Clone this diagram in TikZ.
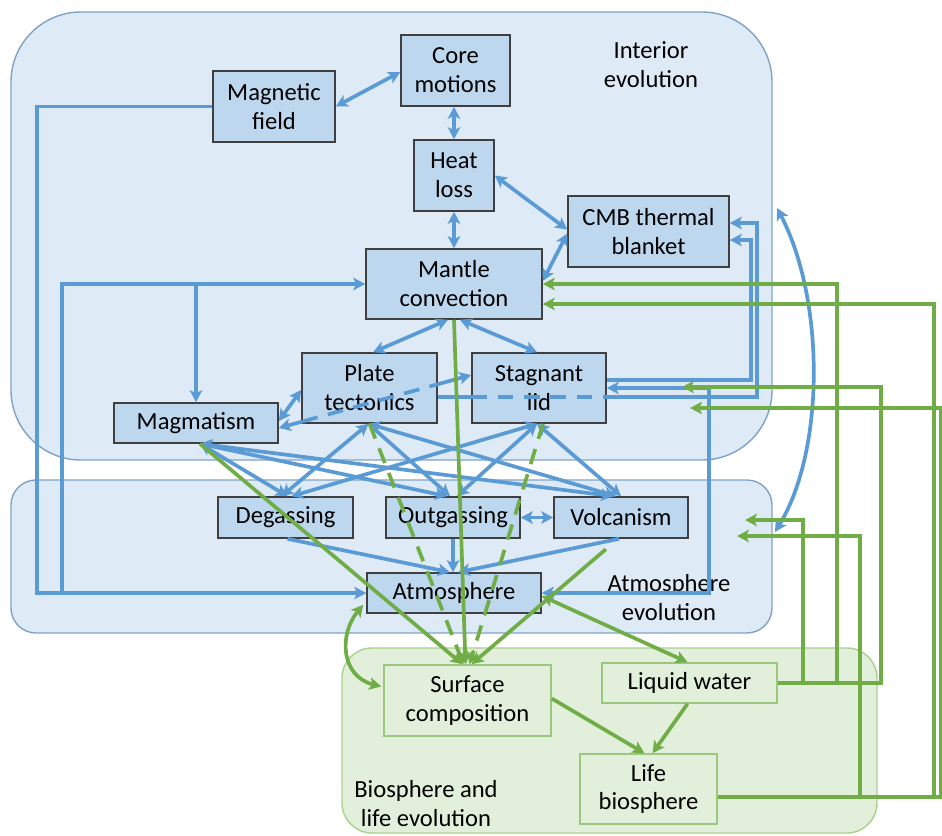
\documentclass[tikz,border=0pt]{standalone}
\usepackage{fontspec}
\setmainfont{Carlito}
\usetikzlibrary{arrows.meta,calc}
\definecolor{contblue}{HTML}{DEEBF7}
\definecolor{contblueb}{HTML}{7FA3C7}
\definecolor{nodeblue}{HTML}{BDD7EE}
\definecolor{nodeb}{HTML}{3F3F3F}
\definecolor{lineblue}{HTML}{5B9BD5}
\definecolor{linegreen}{HTML}{70AD47}
\definecolor{contgreen}{HTML}{E2EFDA}
\definecolor{contgreenb}{HTML}{A9D18E}
\definecolor{nodegreen}{HTML}{E2EFDA}
\definecolor{nodegreenb}{HTML}{9BC87E}
\newcommand\dfont{\fontsize{14pt}{16.5pt}\selectfont}
\begin{document}
\begin{tikzpicture}[x=0.02cm,y=-0.02cm,
  bbox/.style={draw=nodeb,fill=nodeblue,line width=0.9pt,align=center,inner sep=0pt,font=\dfont},
  gbox/.style={draw=nodegreenb,fill=nodegreen,line width=0.9pt,align=center,inner sep=0pt,font=\dfont},
  bl/.style={draw=lineblue,line width=2.1pt},
  gr/.style={draw=linegreen,line width=2.1pt},
  dsh/.style={dash pattern=on 9pt off 6pt},
  >={Stealth[length=2.4mm,width=2.5mm,inset=0.6mm]},
  lbl/.style={font=\dfont,align=center,inner sep=0pt}]
\useasboundingbox (0,0) rectangle (942,835);
% containers
\path[draw=contblueb,fill=contblue,line width=0.8pt,rounded corners=1.4cm] (11,12) rectangle (772,460);
\path[draw=contblueb,fill=contblue,line width=0.8pt,rounded corners=0.5cm] (11,480) rectangle (772,633);
\path[draw=contgreenb,fill=contgreen,line width=0.8pt,rounded corners=0.6cm] (342,648) rectangle (877,833);
% labels
\node[lbl] (lint) at (651,65) {Interior\\evolution};
\node[lbl] (latm) at (669,598) {Atmosphere\\evolution};
\node[lbl] (lbio) at (426,804) {Biosphere and\\life evolution};
% nodes
\node[bbox,minimum width=2.18cm,minimum height=1.42cm] (core) at (455.5,70.5) {Core\\motions};
\node[bbox,minimum width=2.44cm,minimum height=1.42cm] (mf) at (274,106.5) {Magnetic\\field};
\node[bbox,minimum width=1.6cm,minimum height=1.42cm] (heat) at (454,175.5) {Heat\\loss};
\node[bbox,minimum width=3.22cm,minimum height=1.42cm] (cmb) at (648.5,231.5) {CMB thermal\\blanket};
\node[bbox,minimum width=3.52cm,minimum height=1.4cm] (mantle) at (454,284) {Mantle\\convection};
\node[bbox,minimum width=2.7cm,minimum height=1.4cm] (pt) at (369.5,388) {Plate\\tectonics};
\node[bbox,minimum width=2.68cm,minimum height=1.4cm] (sl) at (539,388) {Stagnant\\lid};
\node[bbox,minimum width=3.28cm,minimum height=0.8cm] (mag) at (196,423) {Magmatism};
\node[bbox,minimum width=2.7cm,minimum height=0.82cm] (deg) at (285.5,517.5) {Degassing};
\node[bbox,minimum width=2.68cm,minimum height=0.82cm] (og) at (453,517.5) {Outgassing};
\node[bbox,minimum width=2.68cm,minimum height=0.82cm] (vol) at (621,517.5) {Volcanism};
\node[bbox,minimum width=3.48cm,minimum height=0.8cm] (atm) at (454,593) {Atmosphere};
\node[gbox,minimum width=3.34cm,minimum height=1.42cm] (sc) at (467.5,700.5) {Surface\\composition};
\node[gbox,minimum width=3.5cm,minimum height=0.8cm] (lw) at (689.5,683) {Liquid water};
\node[gbox,minimum width=2.74cm,minimum height=1.4cm] (life) at (648.5,789) {Life\\biosphere};
% free ends
\coordinate (ct) at (777,208);
\coordinate (cb) at (775,532);
\coordinate (fa) at (745,520);
\coordinate (fb) at (682,387);
\coordinate (fc) at (737,536);
\coordinate (fd) at (690,408);
% blue connectors
\draw[bl,<->] (mf.east) -- ($(core.west)+(0,1.5)$);
\draw[bl,<->] (heat.north |- core.south) -- (heat.north);
\draw[bl,<->] (heat.south) -- (heat.south |- mantle.north);
\draw[bl,<->] (heat.east) -- ($(cmb.west)+(0,-2)$);
\draw[bl,<->] ($(mantle.east)+(0,-3)$) -- ($(cmb.west)+(0,2)$);
\draw[bl,->] (mf.west) -| ($(atm.west)+(-329,0)$) -- (atm.west);
\draw[bl,->] ($(atm.west)+(-304,0)$) |- (mantle.west);
\draw[bl,->] (mag.north |- mantle.west) -- (mag.north);
\draw[bl,<->] ($(mantle.south)+(-6,0)$) -- ($(pt.north)+(3.5,0)$);
\draw[bl,<->] ($(mantle.south)+(6,0)$) -- ($(sl.north)+(-2,0)$);
\draw[bl,<->] ($(pt.west)+(0,2)$) -- ($(mag.east)+(0,-2)$);
% magmatism <-> stagnant lid, dashed across plate tectonics
\coordinate (ms1) at ($(mag.east)+(0,5)$);
\coordinate (ms2) at ($(sl.west)+(0,-13)$);
\draw[bl,<-] (ms1) -- ($(ms1)!0.123!(ms2)$);
\draw[bl,dsh] ($(ms1)!0.123!(ms2)$) -- ($(ms1)!0.815!(ms2)$);
\draw[bl,->] ($(ms1)!0.815!(ms2)$) -- (ms2);
% plate tectonics -> CMB, dashed across stagnant lid
\draw[bl] ($(pt.east)+(0,9)$) -- ($(sl.west)+(0,9)$);
\draw[bl,dsh] ($(sl.west)+(0,9)$) -- ($(sl.east)+(0,9)$);
\draw[bl,->] ($(sl.east)+(0,9)$) -- ++(150,0) |- ($(cmb.east)+(0,-8.5)$);
\draw[bl,->] ($(sl.east)+(0,-8)$) -- ++(144,0) |- ($(cmb.east)+(0,8.5)$);
\draw[bl,<->] (atm.east) -- ++(167,0) |- (sl.east);
% crossing lines
\draw[bl,<->] ($(mag.south)+(4,0)$) -- ($(deg.north)+(2,0)$);
\draw[bl,<->] ($(mag.south)+(4,0)$) -- ($(og.north)+(-6,0)$);
\draw[bl,<->] ($(mag.south)+(4,0)$) -- ($(vol.north)+(-8,0)$);
\draw[bl,<->] ($(pt.south)+(-1,0)$) -- ($(deg.north)+(-4,0)$);
\draw[bl,<->] ($(pt.south)+(-1,0)$) -- ($(og.north)+(-3,0)$);
\draw[bl,<->] ($(pt.south)+(-1,0)$) -- ($(vol.north)+(-5,0)$);
\draw[bl,<->] ($(sl.south)+(-2,0)$) -- ($(deg.north)+(6,0)$);
\draw[bl,<->] ($(sl.south)+(-2,0)$) -- ($(og.north)+(4,0)$);
\draw[bl,<->] ($(sl.south)+(-2,0)$) -- ($(vol.north)+(0,0)$);
\draw[bl,<->] (og.east) -- (vol.west);
\draw[bl,->] ($(deg.south)+(2,0)$) -- ($(atm.north)+(-4,0)$);
\draw[bl,->] (og.south) -- (og.south |- atm.north);
\draw[bl,->] ($(vol.south)+(-2,0)$) -- ($(atm.north)+(4,0)$);
\draw[bl,<->] (ct) .. controls (825,300) and (825,450) .. (cb);
% green connectors
\draw[gr,->] (mantle.south) -- ($(sc.north)+(-2,0)$);
\draw[gr,->] ($(mag.south)+(4,0)$) -- ($(sc.north)+(-5,0)$);
\draw[gr,->,dsh] (pt.south) -- ($(sc.north)+(-4,0)$);
\draw[gr,->,dsh] ($(sl.south)+(4,0)$) -- ($(sc.north)+(2,0)$);
\draw[gr,->,shorten <=0.32cm] ($(vol.south)+(-3,0)$) -- ($(sc.north)+(4,0)$);
\draw[gr,<->] ($(atm.south west)+(-3,-9)$) .. controls +(-25,30) and +(-40,-10) .. ($(sc.west)+(-2,-14)$);
\draw[gr,<->] ($(atm.east)+(0,3)$) -- ($(lw.north)+(-2,0)$);
\draw[gr,->] ($(sc.east)+(0,-2)$) -- ($(life.north)+(-4,0)$);
\draw[gr,->] ($(lw.south)+(-2,0)$) -- ($(life.north)+(4,0)$);
\draw[gr,->] (lw.east) -- ++(25,0) |- (fa);
\draw[gr,->] (lw.east) -- ++(59,0) |- (mantle.east);
\draw[gr,->] (lw.east) -- ++(103,0) |- (fb);
\draw[gr,->] ($(life.east)+(0,8)$) -- ++(142,0) |- (fc);
\draw[gr,->] ($(life.east)+(0,8)$) -- ++(216,0) |- ($(mantle.east)+(0,20)$);
\draw[gr,->] ($(life.east)+(0,8)$) -- ++(223,0) |- (fd);
\end{tikzpicture}
\end{document}
